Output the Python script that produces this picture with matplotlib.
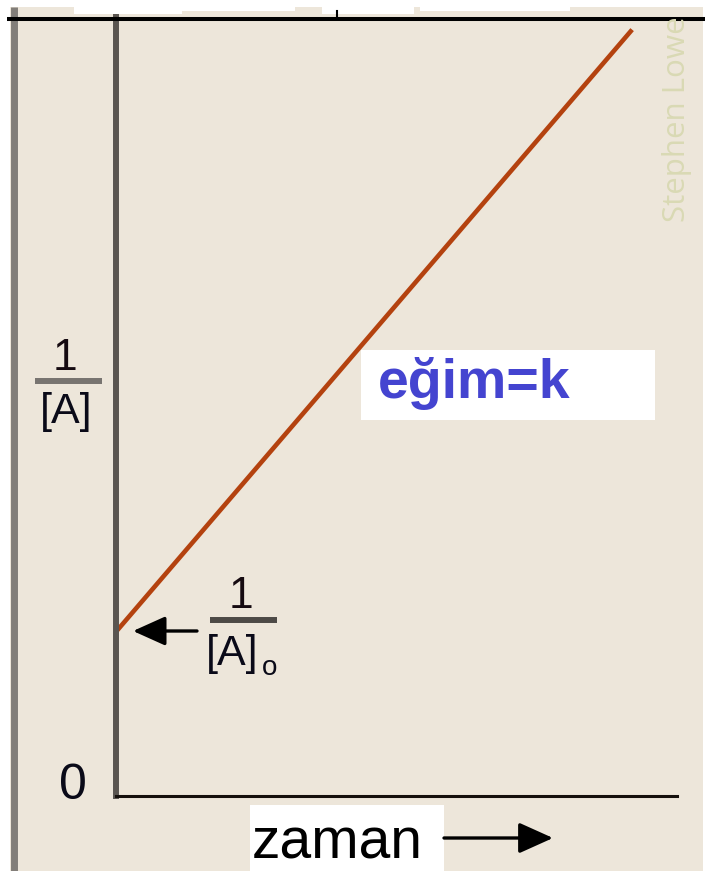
import matplotlib.pyplot as plt
from matplotlib.patches import Rectangle

# second-order reaction: 1/[A] vs time (axis units 0..1)
time = [0.0, 0.92]
inv_conc = [0.21, 0.98]

x_label = "zaman"
y_top = "1"
y_bottom = "[A]"
slope_label = "eğim=k"
zero_label = "0"
watermark = "Stephen Lowe"

W, H = 705, 871
BG = "#ede6da"
plt.rcParams['font.family'] = ['Liberation Sans', 'DejaVu Sans']

fig = plt.figure(figsize=(W / 100, H / 100), dpi=100)
fig.patch.set_facecolor(BG)


def fx(px):
    return px / W


def fy(py):
    return 1 - py / H


# main plot area: y axis at x=116px, x axis at y=796px
ax = fig.add_axes([fx(116), fy(796), fx(677) - fx(116), fy(14) - fy(796)])
ax.set_facecolor("none")
ax.set_xlim(0, 1)
ax.set_ylim(0, 1)
ax.plot(time, inv_conc, color="#b4420f", lw=3.3, solid_capstyle="butt", clip_on=False)
for s in ("top", "right"):
    ax.spines[s].set_visible(False)
ax.spines["left"].set_color("#5a5550")
ax.spines["left"].set_linewidth(4.3)
ax.spines["bottom"].set_color("#15100c")
ax.spines["bottom"].set_linewidth(2.2)
ax.set_xticks([])
ax.set_yticks([])

# overlay in pixel coords for the decorations and labels
ov = fig.add_axes([0, 0, 1, 1], zorder=5)
ov.set_xlim(0, W)
ov.set_ylim(H, 0)
ov.axis("off")
ov.patch.set_alpha(0)

# frame bits: white strips, grey left border, black top rule
ov.add_patch(Rectangle((0, 0), 10, H, color="white", lw=0))
ov.add_patch(Rectangle((0, 0), W, 7, color="white", lw=0))
for x0, w, h in [(74, 108, 14), (182, 113, 11), (322, 92, 14), (420, 150, 11), (570, 78, 7)]:
    ov.add_patch(Rectangle((x0, 0), w, h, color="white", lw=0))
ov.plot([13.5, 13.5], [7, H], color="#827e79", lw=5.0, solid_capstyle="butt")
ov.plot([7, W], [19, 19], color="black", lw=2.9, solid_capstyle="butt")
ov.plot([337, 337], [11, 17], color="black", lw=1.5)
ov.add_patch(Rectangle((703, 0), 2, H, color="white", lw=0))

# watermark
ov.text(677, 222, watermark, rotation=90, rotation_mode="anchor", ha="left", va="center",
        fontsize=22.5, color="#d9d9b4", family=["Open Sans", "DejaVu Sans"])

# y label as a fraction
ov.text(65, 358, y_top, ha="center", va="center", fontsize=32, color="#150a10")
ov.plot([35, 102], [381, 381], color="#787470", lw=4.3, solid_capstyle="butt")
ov.text(66, 412, y_bottom, ha="center", va="center", fontsize=31, color="#0a0a18")

# zero
ov.text(73, 786, zero_label, ha="center", va="center", fontsize=36, color="#0a0a18")

# intercept label 1/[A]o with arrow
ov.annotate("", xy=(133, 631), xytext=(197, 631),
            arrowprops=dict(arrowstyle="-|>,head_length=1.0,head_width=0.45", color="black",
                            lw=2.4, mutation_scale=20, shrinkA=0, shrinkB=0))
ov.text(241, 596, y_top, ha="center", va="center", fontsize=32, color="#150a10")
ov.plot([210, 277], [620, 620], color="#4d4a46", lw=4.3, solid_capstyle="butt")
ov.text(232, 654, y_bottom, ha="center", va="center", fontsize=31, color="#0a0a18")
ov.text(270, 668, "o", ha="center", va="center", fontsize=20, color="#0a0a18")

# slope label in a white box
ov.add_patch(Rectangle((361, 350), 294, 70, color="white", lw=0))
ov.text(378, 398, slope_label, ha="left", va="baseline", fontsize=40,
        fontweight="bold", color="#4444d0")

# x label in a white box with arrow
ov.add_patch(Rectangle((250, 805), 194, 66, color="white", lw=0))
ov.text(252, 858, x_label, ha="left", va="baseline", fontsize=41, color="black")
ov.annotate("", xy=(553, 838), xytext=(444, 838),
            arrowprops=dict(arrowstyle="-|>,head_length=1.0,head_width=0.45", color="black",
                            lw=2.4, mutation_scale=21, shrinkA=0, shrinkB=0))

fig.savefig("out.png", dpi=100, facecolor=BG)
